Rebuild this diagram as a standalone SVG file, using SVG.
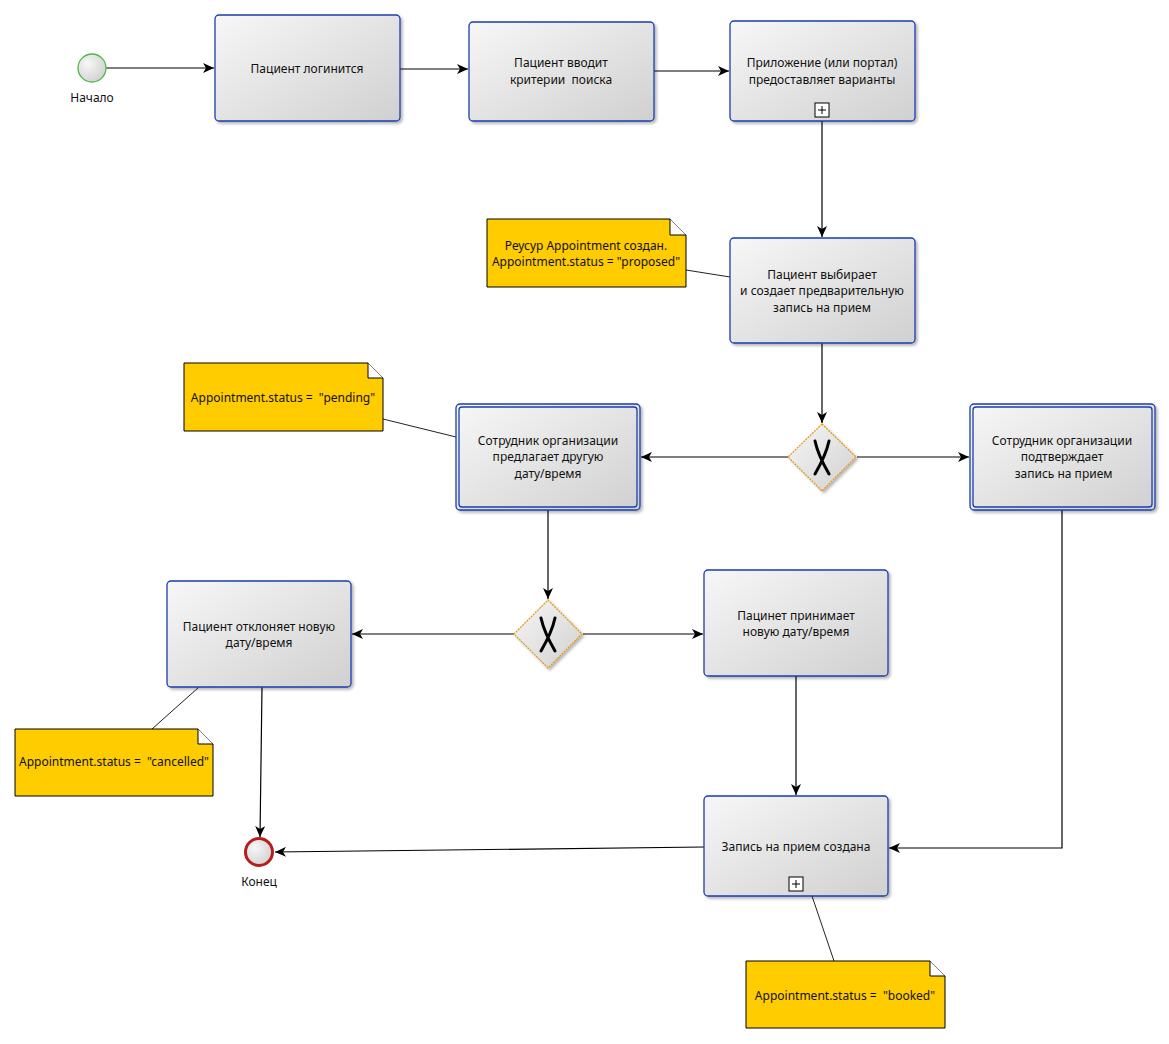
<svg xmlns="http://www.w3.org/2000/svg" width="1169" height="1044" viewBox="0 0 1169 1044">
<defs>
<linearGradient id="tg" x1="0" y1="0" x2="1" y2="1">
<stop offset="0" stop-color="#f7f7f7"/>
<stop offset="1" stop-color="#d0d0d0"/>
</linearGradient>
<radialGradient id="eg" cx="0.35" cy="0.35" r="0.7">
<stop offset="0" stop-color="#f7f7f7"/>
<stop offset="1" stop-color="#d2d2d2"/>
</radialGradient>
<filter id="sh" x="-10%" y="-10%" width="125%" height="130%">
<feGaussianBlur in="SourceAlpha" stdDeviation="1.5"/>
<feOffset dx="2" dy="2" result="b"/>
<feComponentTransfer><feFuncA type="linear" slope="0.3"/></feComponentTransfer>
<feMerge><feMergeNode/><feMergeNode in="SourceGraphic"/></feMerge>
</filter>
<marker id="ah" markerWidth="12" markerHeight="10" refX="11" refY="5" orient="auto" markerUnits="userSpaceOnUse">
<path d="M0,0 L11,5 L0,10 L3,5 Z" fill="#000"/>
</marker>
</defs>
<style>
text{font-family:"Noto Sans","Open Sans","DejaVu Sans",sans-serif;font-size:12px;fill:#111;text-anchor:middle;white-space:pre}
.task{fill:url(#tg);stroke:#1a3eb0;stroke-width:1.3}
.inner{fill:none;stroke:#1a3eb0;stroke-width:1.3}
.note{fill:#ffcc00;stroke:#000;stroke-width:1}
.fold{fill:#fff;stroke:#000;stroke-width:1}
.edge{fill:none;stroke:#000;stroke-width:1.2}
.assoc{fill:none;stroke:#222;stroke-width:1}
.gw{fill:url(#tg);stroke:#e39a1c;stroke-width:1.3;stroke-dasharray:2 1}
.gx{fill:none;stroke:#000;stroke-width:3;stroke-linecap:round}
.mk{fill:#fff;stroke:#000;stroke-width:1}
</style>

<g id="connectors">
<line class="edge" x1="106" y1="68" x2="214" y2="68" marker-end="url(#ah)"/>
<line class="edge" x1="400" y1="69" x2="468" y2="69" marker-end="url(#ah)"/>
<line class="edge" x1="654" y1="71" x2="729" y2="71" marker-end="url(#ah)"/>
<line class="edge" x1="822" y1="121" x2="822" y2="237" marker-end="url(#ah)"/>
<line class="edge" x1="822" y1="343" x2="822" y2="423" marker-end="url(#ah)"/>
<line class="edge" x1="788" y1="457" x2="641" y2="457" marker-end="url(#ah)"/>
<line class="edge" x1="857" y1="457" x2="969" y2="457" marker-end="url(#ah)"/>
<line class="edge" x1="548" y1="510" x2="548" y2="599" marker-end="url(#ah)"/>
<line class="edge" x1="514" y1="634" x2="352" y2="634" marker-end="url(#ah)"/>
<line class="edge" x1="583" y1="634" x2="703" y2="634" marker-end="url(#ah)"/>
<line class="edge" x1="262" y1="687" x2="260" y2="837" marker-end="url(#ah)"/>
<line class="edge" x1="796" y1="676" x2="796" y2="795" marker-end="url(#ah)"/>
<line class="edge" x1="704" y1="847" x2="275" y2="852" marker-end="url(#ah)"/>
<polyline class="edge" points="1062,510 1062,848 889,848" marker-end="url(#ah)"/>
<line class="assoc" x1="686" y1="270" x2="730" y2="277"/>
<line class="assoc" x1="383" y1="419" x2="456" y2="437"/>
<line class="assoc" x1="199" y1="687" x2="152" y2="729"/>
<line class="assoc" x1="812" y1="896" x2="834" y2="961"/>
</g>

<g id="start">
<circle cx="92" cy="68" r="14" fill="url(#eg)" stroke="#4fb848" stroke-width="1.3"/>
<text x="92" y="102">Начало</text>
</g>

<g id="task1">
<rect class="task" x="215" y="15" width="185" height="106" rx="4" filter="url(#sh)"/>
<text x="307" y="73">Пациент логинится</text>
</g>

<g id="task2">
<rect class="task" x="469" y="22" width="185" height="99" rx="4" filter="url(#sh)"/>
<text x="561" y="67">Пациент вводит</text>
<text x="561" y="84">критерии  поиска</text>
</g>

<g id="task3">
<rect class="task" x="730" y="21" width="185" height="100" rx="4" filter="url(#sh)"/>
<text x="822" y="67">Приложение (или портал)</text>
<text x="822" y="84">предоставляет варианты</text>
<rect class="mk" x="815" y="103" width="14" height="14"/>
<path d="M818,110 H826 M822,106 V114" stroke="#000" stroke-width="1"/>
</g>

<g id="note1">
<path class="note" d="M487,219 H670 L686,235 V287 H487 Z"/>
<path class="fold" d="M670,219 V235 H686"/>
<text x="586" y="250">Реусур Appointment создан.</text>
<text x="586" y="266">Appointment.status = "proposed"</text>
</g>

<g id="task4">
<rect class="task" x="730" y="238" width="185" height="105" rx="4" filter="url(#sh)"/>
<text x="822" y="279">Пациент выбирает</text>
<text x="822" y="295">и создает предварительную</text>
<text x="822" y="312">запись на прием</text>
</g>

<g id="gateway1">
<path class="gw" d="M822,424 L856,457 L822,491 L788,457 Z" filter="url(#sh)"/>
<path class="gx" d="M815,441 Q818,455 829,474 M829,441 Q826,455 815,474"/>
</g>

<g id="note2">
<path class="note" d="M184,363 H368 L383,378 V431 H184 Z"/>
<path class="fold" d="M368,363 V378 H383"/>
<text x="283" y="402">Appointment.status =  "pending"</text>
</g>

<g id="task5">
<rect class="task" x="456" y="404" width="184" height="106" rx="4" filter="url(#sh)"/>
<rect class="inner" x="459" y="407" width="178" height="100" rx="3"/>
<text x="548" y="445">Сотрудник организации</text>
<text x="548" y="461">предлагает другую</text>
<text x="548" y="478">дату/время</text>
</g>

<g id="task6">
<rect class="task" x="970" y="404" width="185" height="106" rx="4" filter="url(#sh)"/>
<rect class="inner" x="973" y="407" width="179" height="100" rx="3"/>
<text x="1062" y="445">Сотрудник организации</text>
<text x="1062" y="461">подтверждает</text>
<text x="1062" y="478"> запись на прием</text>
</g>

<g id="gateway2">
<path class="gw" d="M548,600 L582,634 L548,668 L514,634 Z" filter="url(#sh)"/>
<path class="gx" d="M541,618 Q544,632 555,651 M555,618 Q552,632 541,651"/>
</g>

<g id="task7">
<rect class="task" x="167" y="581" width="184" height="106" rx="4" filter="url(#sh)"/>
<text x="259" y="631">Пациент отклоняет новую</text>
<text x="259" y="647">дату/время</text>
</g>

<g id="task8">
<rect class="task" x="704" y="570" width="184" height="106" rx="4" filter="url(#sh)"/>
<text x="796" y="620">Пацинет принимает</text>
<text x="796" y="636">новую дату/время</text>
</g>

<g id="note3">
<path class="note" d="M15,729 H198 L213,744 V796 H15 Z"/>
<path class="fold" d="M198,729 V744 H213"/>
<text x="114" y="766">Appointment.status =  "cancelled"</text>
</g>

<g id="end">
<circle cx="259" cy="852" r="13.5" fill="url(#eg)" stroke="#b81c1c" stroke-width="3"/>
<text x="259" y="886">Конец</text>
</g>

<g id="task9">
<rect class="task" x="704" y="796" width="184" height="100" rx="4" filter="url(#sh)"/>
<text x="796" y="851">Запись на прием создана</text>
<rect class="mk" x="789" y="877" width="14" height="14"/>
<path d="M792,884 H800 M796,880 V888" stroke="#000" stroke-width="1"/>
</g>

<g id="note4">
<path class="note" d="M746,961 H930 L945,976 V1028 H746 Z"/>
<path class="fold" d="M930,961 V976 H945"/>
<text x="845" y="1000">Appointment.status =  "booked"</text>
</g>
</svg>
